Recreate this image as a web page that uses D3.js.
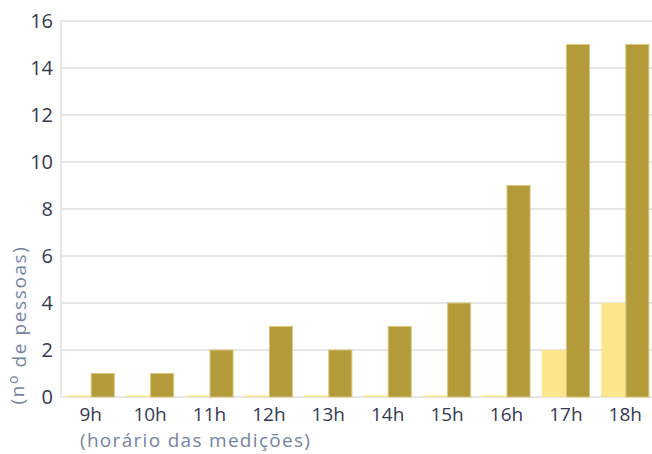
<!DOCTYPE html>
<html><head><meta charset="utf-8">
<script src="https://cdn.jsdelivr.net/npm/d3@7"></script>
<style>body{margin:0;background:#fff}svg{display:block}</style>
</head><body><svg id="c" width="652" height="454"></svg>
<script>
const categories = ["9h","10h","11h","12h","13h","14h","15h","16h","17h","18h"];
const seriesLight = [0,0,0,0,0,0,0,0,2,4];
const seriesDark = [1,1,2,3,2,3,4,9,15,15];
const yTicks = [0,2,4,6,8,10,12,14,16];

const svg = d3.select("#c");
const font = "'Open Sans', 'Noto Sans', sans-serif";
const x = d3.scaleBand().domain(categories).range([61,655]).paddingInner(0.19).paddingOuter(0.095);
const xs = d3.scaleBand().domain(["l","d"]).range([0,x.bandwidth()]);
const y = d3.scaleLinear().domain([0,16]).range([397,21]);

// grid
svg.append("g").selectAll("line").data(yTicks).join("line")
  .attr("x1",61).attr("x2",652).attr("y1",d=>y(d)).attr("y2",d=>y(d))
  .attr("stroke","#e6e6e6").attr("stroke-width",2);
svg.append("line").attr("x1",61).attr("x2",61).attr("y1",y(16)).attr("y2",y(0))
  .attr("stroke","#e6e6e6").attr("stroke-width",2);

const g = svg.append("g");
categories.forEach((c,i)=>{
  const h1 = Math.max(y(0)-y(seriesLight[i]),1.5);
  g.append("rect").attr("x",x(c)+xs("l")).attr("width",xs.bandwidth())
    .attr("y",y(0)-h1).attr("height",h1).attr("fill","#fde58c");
  g.append("rect").attr("x",x(c)+xs("d")+0.5).attr("width",xs.bandwidth()-1)
    .attr("y",y(seriesDark[i])).attr("height",y(0)-y(seriesDark[i]))
    .attr("fill","#b39b39").attr("stroke","#d9c77e").attr("stroke-width",1);
});

// y labels
svg.append("g").selectAll("text").data(yTicks).join("text")
  .attr("x",53).attr("y",d=>y(d)).attr("dy","0.36em").attr("text-anchor","end")
  .attr("font-family",font).attr("font-size",20).attr("fill","#363950").text(d=>d);

// x labels
svg.append("g").selectAll("text").data(categories).join("text")
  .attr("x",d=>x(d)+x.bandwidth()/2).attr("y",421).attr("text-anchor","middle")
  .attr("font-family",font).attr("font-size",19).attr("fill","#363950").text(d=>d);

svg.append("text").attr("x",80).attr("y",447).attr("font-family",font).attr("font-size",19)
  .attr("letter-spacing","1.3px").attr("fill","#7683a0").text("(horário das medições)");

const yt = svg.append("text").attr("transform","translate(24,325) rotate(-90)")
  .attr("text-anchor","middle").attr("font-family",font).attr("font-size",19)
  .attr("letter-spacing","1.6px").attr("fill","#7683a0");
yt.append("tspan").text("(n");
yt.append("tspan").attr("dy","-0.45em").attr("font-size",14).text("o");
yt.append("tspan").attr("dy","0.45em").text(" de pessoas)");
</script></body></html>
